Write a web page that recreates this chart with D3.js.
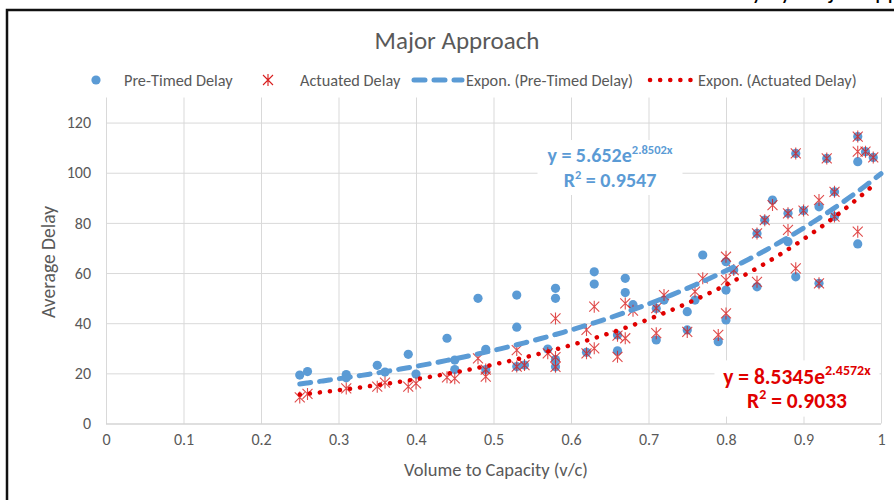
<!DOCTYPE html>
<html>
<head>
<meta charset="utf-8">
<script src="https://cdn.jsdelivr.net/npm/d3@7"></script>
<style>
  body { margin: 0; background: #fff; }
  text { font-family: Carlito, Lato, "Liberation Sans", sans-serif; }
</style>
</head>
<body>
<div id="chart"></div>
<script>
// Pre-Timed Delay points [v/c, delay]
const preTimed = [
  [0.25, 19.3], [0.26, 20.7], [0.31, 19.5], [0.31, 18.2], [0.35, 23.2], [0.36, 20.5],
  [0.39, 27.6], [0.40, 19.7], [0.44, 34.0], [0.45, 25.3], [0.45, 21.5], [0.48, 49.9],
  [0.49, 29.6], [0.49, 21.5], [0.53, 51.2], [0.53, 38.4], [0.53, 22.7], [0.54, 23.3],
  [0.57, 29.7], [0.58, 53.9], [0.58, 49.9], [0.58, 25.5], [0.58, 22.6], [0.62, 28.4],
  [0.63, 60.5], [0.63, 55.6], [0.66, 35.3], [0.66, 29.0], [0.67, 57.9], [0.67, 52.2],
  [0.68, 47.4], [0.71, 45.9], [0.71, 33.3], [0.72, 49.2], [0.75, 44.6], [0.75, 37.3],
  [0.76, 49.2], [0.77, 67.2], [0.79, 32.6], [0.80, 64.5], [0.80, 53.2], [0.80, 41.3],
  [0.81, 61.2], [0.84, 75.8], [0.84, 54.5], [0.85, 81.1], [0.86, 89.1], [0.88, 83.8],
  [0.88, 72.5], [0.89, 107.7], [0.89, 58.5], [0.90, 84.9], [0.92, 86.4], [0.92, 55.9],
  [0.93, 105.7], [0.94, 92.4], [0.94, 82.5], [0.97, 114.4], [0.97, 104.4], [0.97, 71.6],
  [0.98, 108.4], [0.99, 106.1]
];

// Actuated Delay points [v/c, delay]
const actuated = [
  [0.25, 10.4], [0.26, 11.8], [0.31, 14.0], [0.35, 14.7], [0.36, 16.3], [0.39, 14.7],
  [0.40, 16.0], [0.44, 18.4], [0.45, 18.0], [0.48, 26.0], [0.49, 18.7], [0.49, 21.5],
  [0.53, 29.3], [0.53, 22.7], [0.54, 23.3], [0.57, 28.0], [0.58, 41.9], [0.58, 26.5],
  [0.58, 22.6], [0.62, 37.3], [0.62, 28.0], [0.63, 46.6], [0.63, 30.0], [0.66, 35.0],
  [0.66, 26.6], [0.67, 47.9], [0.67, 34.0], [0.68, 45.0], [0.71, 46.0], [0.71, 36.0],
  [0.72, 51.2], [0.75, 36.5], [0.76, 52.6], [0.77, 57.9], [0.79, 35.3], [0.80, 66.5],
  [0.80, 57.2], [0.80, 43.9], [0.81, 61.2], [0.84, 75.8], [0.84, 56.5], [0.85, 81.1],
  [0.86, 87.1], [0.88, 83.8], [0.88, 77.2], [0.89, 107.7], [0.89, 61.9], [0.90, 84.9],
  [0.92, 89.1], [0.92, 55.9], [0.93, 105.7], [0.94, 92.4], [0.94, 82.5], [0.97, 114.4],
  [0.97, 108.4], [0.97, 76.5], [0.98, 108.4], [0.99, 106.1]
];

// exponential trendlines [a, b, xStart, xEnd] as they are drawn in the picture
const dashedFit = [8.5345, 2.4572, 0.25, 1.0];
const dottedFit = [5.652, 2.8502, 0.25, 0.995];

const xTicks = [0, 0.1, 0.2, 0.3, 0.4, 0.5, 0.6, 0.7, 0.8, 0.9, 1];
const yTicks = [0, 20, 40, 60, 80, 100, 120];
const legendLabels = ["Pre-Timed Delay", "Actuated Delay", "Expon. (Pre-Timed Delay)", "Expon. (Actuated Delay)"];

const blue = "#5b9bd5";
const red = "#d81e1e";
const trendRed = "#e00000";
const grey = "#595959";

const width = 894, height = 500;
const x = d3.scaleLinear([0, 1], [106, 881]);
const y = d3.scaleLinear([0, 130], [423.5, 97.5]);

const svg = d3.select("#chart").append("svg")
    .attr("width", width)
    .attr("height", height);

// cut-off caption line of the page above (only descenders show)
svg.append("text")
    .attr("x", 955).attr("y", -1)
    .attr("text-anchor", "end")
    .attr("fill", "#000")
    .style("font-size", "24px")
    .text("Pre-Timed and Actuated Delay by Major Approach");

// chart frame
svg.append("rect")
    .attr("x", 7).attr("y", 10)
    .attr("width", 1000).attr("height", 1000)
    .attr("fill", "#fff")
    .attr("stroke", "#111")
    .attr("stroke-width", 2.5);

// grid + axes
svg.append("g")
    .attr("transform", `translate(0,${y(0)})`)
    .call(d3.axisBottom(x).tickValues(xTicks).tickFormat(d3.format("")).tickSize(-(y(0) - y(130))).tickPadding(10))
    .call(g => g.select(".domain").remove())
    .call(g => g.selectAll(".tick line").attr("stroke", "#d9d9d9"))
    .call(g => g.selectAll(".tick text").attr("fill", grey).style("font-size", "16px"));

svg.append("g")
    .attr("transform", `translate(${x(0)},0)`)
    .call(d3.axisLeft(y).tickValues(yTicks).tickSize(-(x(1) - x(0))).tickPadding(15))
    .call(g => g.select(".domain").remove())
    .call(g => g.selectAll(".tick line").attr("stroke", d => d === 0 ? "#bfbfbf" : "#d9d9d9"))
    .call(g => g.selectAll(".tick text").attr("fill", grey).style("font-size", "16px"));

// axis titles
svg.append("text")
    .attr("x", 496).attr("y", 476)
    .attr("text-anchor", "middle")
    .attr("fill", grey)
    .style("font-size", "18.5px")
    .text("Volume to Capacity (v/c)");

svg.append("text")
    .attr("transform", "translate(55,262) rotate(-90)")
    .attr("text-anchor", "middle")
    .attr("fill", grey)
    .style("font-size", "19.5px")
    .text("Average Delay");

// title
svg.append("text")
    .attr("x", 457).attr("y", 49)
    .attr("text-anchor", "middle")
    .attr("fill", grey)
    .style("font-size", "25px")
    .text("Major Approach");

const star = "M0,-6V6M-5,-5L5,5M-5,5L5,-5";

// markers
svg.append("g")
  .selectAll("circle")
  .data(preTimed)
  .join("circle")
    .attr("cx", d => x(d[0]))
    .attr("cy", d => y(d[1]))
    .attr("r", 4.6)
    .attr("fill", blue);

svg.append("g")
  .selectAll("path")
  .data(actuated)
  .join("path")
    .attr("transform", d => `translate(${x(d[0])},${y(d[1])})`)
    .attr("d", star)
    .attr("fill", "none")
    .attr("stroke", red)
    .attr("stroke-opacity", 0.8)
    .attr("stroke-width", 1.1);

// trendlines
function trend([a, b, x0, x1]) {
  const xs = d3.range(x0, x1, 0.01).concat([x1]);
  return xs.map(v => [v, a * Math.exp(b * v)]);
}
const line = d3.line().x(d => x(d[0])).y(d => y(d[1])).curve(d3.curveMonotoneX);

svg.append("path")
    .attr("d", line(trend(dashedFit)))
    .attr("fill", "none")
    .attr("stroke", blue)
    .attr("stroke-width", 5)
    .attr("stroke-linecap", "round")
    .attr("stroke-dasharray", "11,9");

svg.append("path")
    .attr("d", line(trend(dottedFit)))
    .attr("fill", "none")
    .attr("stroke", trendRed)
    .attr("stroke-width", 4.5)
    .attr("stroke-linecap", "round")
    .attr("stroke-dasharray", "0.1,10");

// equation labels
function equation(cx, cy, color, size, supSize, gap, coef, expo, r2, boxW) {
  const g = svg.append("g").attr("fill", color).style("font-weight", "bold");
  g.append("rect")
      .attr("x", cx - boxW / 2).attr("y", cy - size * 1.1)
      .attr("width", boxW).attr("height", gap + size * 1.5)
      .attr("fill", "#fff");
  const t = g.append("text")
      .attr("x", cx).attr("y", cy)
      .attr("text-anchor", "middle")
      .style("font-size", size + "px");
  t.append("tspan").text(`y = ${coef}e`);
  t.append("tspan").attr("dy", -size * 0.42).style("font-size", supSize + "px").text(expo);
  const t2 = g.append("text")
      .attr("x", cx).attr("y", cy + gap)
      .attr("text-anchor", "middle")
      .style("font-size", size + "px");
  t2.append("tspan").text("R");
  t2.append("tspan").attr("dy", -size * 0.4).style("font-size", supSize + "px").text("2");
  t2.append("tspan").attr("dy", size * 0.4).text(` = ${r2}`);
}
equation(610, 162, blue, 20, 12.5, 25, "5.652", "2.8502x", "0.9547", 145);
equation(797, 384, trendRed, 21.5, 14, 24, "8.5345", "2.4572x", "0.9033", 165);

// legend
const lg = svg.append("g").attr("fill", grey).style("font-size", "16.3px");
lg.append("circle").attr("cx", 96).attr("cy", 80).attr("r", 4.6).attr("fill", blue);
lg.append("text").attr("x", 124).attr("y", 85.5).text(legendLabels[0]);
lg.append("path").attr("transform", "translate(268,80)").attr("d", star)
    .attr("fill", "none").attr("stroke", red).attr("stroke-width", 1.1);
lg.append("text").attr("x", 300).attr("y", 85.5).text(legendLabels[1]);
lg.append("path").attr("d", "M414,80H462")
    .attr("stroke", blue).attr("stroke-width", 5).attr("stroke-linecap", "round")
    .attr("stroke-dasharray", "11,9");
lg.append("text").attr("x", 466).attr("y", 85.5).text(legendLabels[2]);
lg.append("path").attr("d", "M650,80H694")
    .attr("stroke", trendRed).attr("stroke-width", 4.5).attr("stroke-linecap", "round")
    .attr("stroke-dasharray", "0.1,10");
lg.append("text").attr("x", 698).attr("y", 85.5).text(legendLabels[3]);
</script>
</body>
</html>
